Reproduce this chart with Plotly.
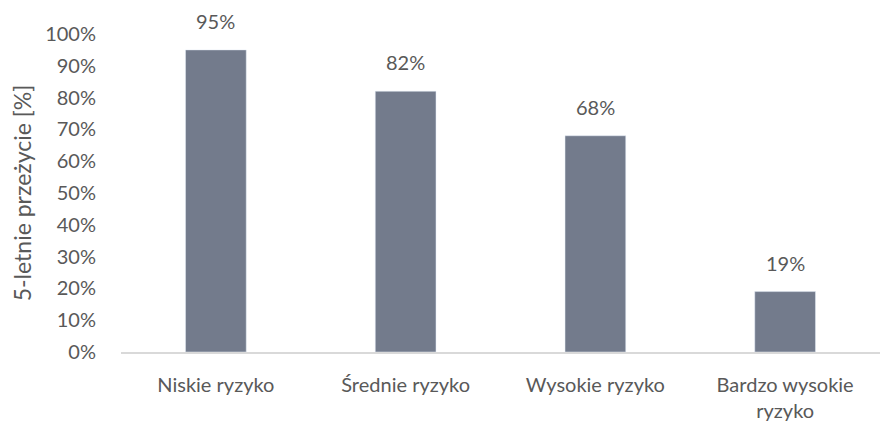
import plotly.graph_objects as go

categories = ["Niskie ryzyko", "Średnie ryzyko", "Wysokie ryzyko", "Bardzo wysokie<br>ryzyko"]
survival = [0.95, 0.82, 0.68, 0.19]
y_ticks = [i / 10 for i in range(11)]
y_tick_labels = [f"{i * 10}%" for i in range(11)]

FONT = "Lato, Open Sans, sans-serif"
GREY_TEXT = "#595959"

fig = go.Figure(
    go.Bar(
        x=categories,
        y=survival,
        marker_color="#737b8c",
        hoverinfo="skip",
    )
)

for cat, val in zip(categories, survival):
    fig.add_annotation(
        x=cat, y=val, text=f"{round(val * 100)}%",
        showarrow=False, yanchor="bottom", yshift=15,
        font=dict(family=FONT, size=20, color=GREY_TEXT),
    )

# page body has an 8px default margin, so the figure is 8px smaller
fig.update_layout(
    width=884, height=415,
    margin=dict(l=113, r=12, t=26, b=71),
    plot_bgcolor="white", paper_bgcolor="white",
    bargap=0.68,
    showlegend=False,
    font=dict(family=FONT, size=20, color=GREY_TEXT),
)
fig.update_xaxes(
    showline=True, linecolor="#d9d9d9", linewidth=1.5,
    ticks="outside", ticklen=14, tickcolor="white",
    showgrid=False, automargin=False,
)
fig.update_yaxes(
    range=[0, 1], tickvals=y_ticks, ticktext=y_tick_labels,
    showgrid=False, zeroline=False, automargin=False,
    ticks="outside", ticklen=20, tickcolor="white",
    title=dict(text="5-letnie przeżycie [%]", standoff=11,
               font=dict(family=FONT, size=23, color=GREY_TEXT)),
)

fig.write_html("out.html")
